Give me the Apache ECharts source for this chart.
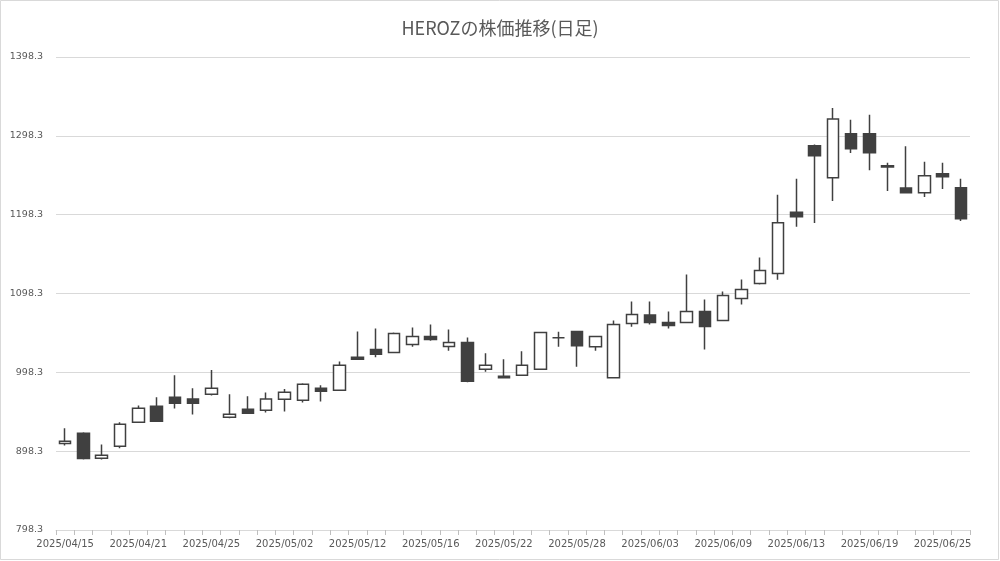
<!DOCTYPE html>
<html>
<head>
<meta charset="utf-8">
<script src="https://cdn.jsdelivr.net/npm/echarts@6/dist/echarts.min.js"></script>
<style>
html,body{margin:0;padding:0;background:#fff;}
#chart{width:1000px;height:561px;}
</style>
</head>
<body>
<div id="chart"></div>
<script>
const titleText = 'HEROZの株価推移(日足)';
const dates = ['2025/04/15','2025/04/16','2025/04/17','2025/04/18','2025/04/21','2025/04/22','2025/04/23','2025/04/24','2025/04/25','2025/04/28',
'2025/04/30','2025/05/01','2025/05/02','2025/05/07','2025/05/08','2025/05/09','2025/05/12','2025/05/13','2025/05/14','2025/05/15',
'2025/05/16','2025/05/19','2025/05/20','2025/05/21','2025/05/22','2025/05/23','2025/05/26','2025/05/27','2025/05/28','2025/05/29',
'2025/05/30','2025/06/02','2025/06/03','2025/06/04','2025/06/05','2025/06/06','2025/06/09','2025/06/10','2025/06/11','2025/06/12',
'2025/06/13','2025/06/16','2025/06/17','2025/06/18','2025/06/19','2025/06/20','2025/06/23','2025/06/24','2025/06/25','2025/06/26'];
const openValues = [908.0,921.1,889.4,904.6,935.0,955.3,966.7,964.5,970.4,941.3,
951.5,950.2,964.1,962.9,978.0,975.5,1017.3,1027.4,1023.6,1033.7,
1043.9,1031.2,1036.3,1002.1,993.2,994.5,1002.1,1042.2,1050.2,1030.8,
991.5,1060.3,1070.9,1061.6,1061.6,1075.5,1064.1,1092.0,1111.0,1123.6,
1201.3,1285.6,1245.1,1300.8,1300.8,1260.3,1232.1,1226.1,1250.2,1232.5];
const closeValues = [911.0,889.0,893.2,932.5,952.7,936.3,959.1,959.1,978.0,945.1,
946.4,964.5,973.0,983.1,974.2,1007.2,1014.8,1021.1,1047.7,1043.9,
1040.1,1036.3,986.9,1007.2,991.5,1007.2,1048.9,1042.2,1032.1,1043.9,
1059.1,1071.7,1061.6,1057.8,1075.5,1056.5,1095.8,1103.4,1127.4,1188.2,
1195.8,1273.0,1319.8,1281.8,1276.8,1258.7,1226.1,1247.7,1246.4,1193.2];
const lowValues = [905.5,887.8,887.8,902.1,935.0,936.3,952.3,944.7,968.8,940.1,
946.4,947.2,948.5,959.9,961.2,974.7,1014.8,1017.3,1023.6,1030.8,
1038.4,1025.7,985.6,999.1,991.1,994.5,1002.1,1030.8,1005.5,1025.7,
990.7,1056.0,1059.1,1054.0,1061.6,1027.4,1064.1,1084.4,1109.7,1115.6,
1183.1,1187.7,1215.6,1276.4,1254.8,1228.3,1226.1,1220.7,1230.8,1190.3];
const highValues = [927.4,922.4,906.7,935.0,956.1,966.7,994.5,978.0,1001.3,970.4,
967.9,972.6,977.2,984.4,981.8,1012.2,1050.2,1054.0,1048.9,1055.2,
1059.1,1052.7,1042.6,1022.4,1014.8,1024.9,1048.9,1049.8,1050.2,1043.9,
1064.1,1088.2,1088.2,1075.5,1122.4,1090.7,1100.8,1116.0,1143.9,1223.6,
1243.9,1287.3,1333.7,1318.6,1324.9,1264.1,1285.2,1265.4,1264.1,1243.9];

const yMin = 798.3, yMax = 1398.3, yStep = 100;

const candleData = dates.map((d, i) => [openValues[i], closeValues[i], lowValues[i], highValues[i]]);

const chart = echarts.init(document.getElementById('chart'), null, {renderer: 'canvas'});
chart.setOption({
  animation: false,
  backgroundColor: '#ffffff',
  title: {
    text: titleText,
    left: 'center',
    top: 14,
    textStyle: {fontFamily: 'Noto Sans CJK JP', fontSize: 18, fontWeight: 'normal', color: '#595959'}
  },
  graphic: [{
    type: 'rect', silent: true,
    shape: {x: 0.5, y: 0.5, width: 998, height: 559},
    style: {fill: 'none', stroke: '#d9d9d9', lineWidth: 1}
  }],
  grid: {left: 56, right: 30, top: 57, bottom: 31, containLabel: false},
  xAxis: {
    type: 'category',
    data: dates,
    boundaryGap: true,
    axisLine: {show: true, lineStyle: {color: '#d9d9d9', width: 1}},
    axisTick: {show: true, interval: 0, length: 5, lineStyle: {color: '#bfbfbf'}},
    axisLabel: {interval: 3, margin: 9, fontFamily: 'DejaVu Sans', fontSize: 10, color: '#595959'},
    splitLine: {show: false}
  },
  yAxis: {
    type: 'value',
    min: yMin, max: yMax, interval: yStep,
    axisLine: {show: false},
    axisTick: {show: false},
    axisLabel: {margin: 13, fontFamily: 'DejaVu Sans', fontSize: 9.5, color: '#595959',
      formatter: v => v.toFixed(1)},
    splitLine: {lineStyle: {color: '#d9d9d9', width: 1}}
  },
  series: [{
    type: 'candlestick',
    data: candleData,
    barWidth: 12,
    itemStyle: {
      color: '#ffffff', color0: '#404040',
      borderColor: '#404040', borderColor0: '#404040', borderColorDoji: '#404040',
      borderWidth: 1.5
    }
  }]
});
</script>
</body>
</html>
